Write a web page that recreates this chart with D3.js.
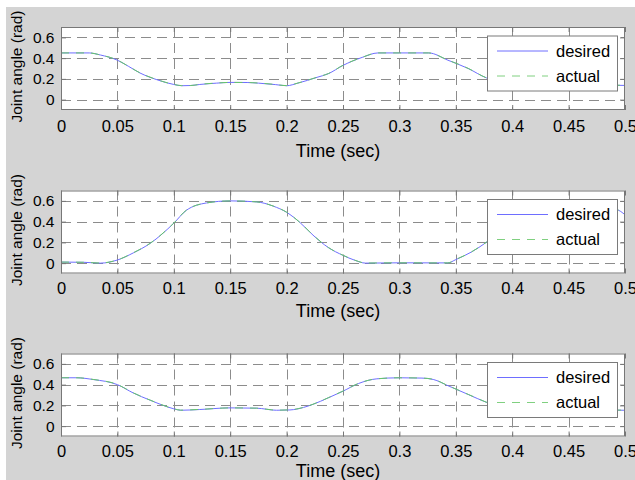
<!DOCTYPE html>
<html>
<head>
<meta charset="utf-8">
<script src="https://cdn.jsdelivr.net/npm/d3@7/dist/d3.min.js"></script>
<style>
  html, body { margin: 0; padding: 0; background: #ffffff; }
  svg { display: block; }
  text { font-family: "Liberation Sans", Arial, sans-serif; fill: #000; }
</style>
</head>
<body>
<svg id="chart" width="635" height="480"></svg>
<script>
// ---------- DATA ----------
const xTicks = [0, 0.05, 0.1, 0.15, 0.2, 0.25, 0.3, 0.35, 0.4, 0.45, 0.5];
const xTickLabels = ["0", "0.05", "0.1", "0.15", "0.2", "0.25", "0.3", "0.35", "0.4", "0.45", "0.5"];
const yTicks = [0, 0.2, 0.4, 0.6];
const yTickLabels = ["0", "0.2", "0.4", "0.6"];
const seriesNames = ["desired", "actual"];
const xLabel = "Time (sec)";
const yLabel = "Joint angle (rad)";

// Panel 1
const t1 = [0, 0.025, 0.035, 0.05, 0.06, 0.07, 0.085, 0.1, 0.107, 0.115, 0.123, 0.138, 0.15, 0.165, 0.175, 0.19, 0.2, 0.21, 0.227, 0.237, 0.25, 0.267, 0.281, 0.3, 0.326, 0.343, 0.361, 0.377, 0.39, 0.405, 0.42, 0.44, 0.46, 0.48, 0.5];
const desired1 = [0.45, 0.45, 0.43, 0.38, 0.32, 0.257, 0.192, 0.146, 0.134, 0.136, 0.146, 0.159, 0.166, 0.165, 0.159, 0.145, 0.134, 0.159, 0.215, 0.25, 0.33, 0.407, 0.45, 0.45, 0.45, 0.38, 0.3, 0.21, 0.17, 0.145, 0.14, 0.15, 0.15, 0.14, 0.137];
const actual1  = [0.45, 0.45, 0.43, 0.381, 0.32, 0.258, 0.193, 0.147, 0.135, 0.136, 0.147, 0.16, 0.166, 0.165, 0.16, 0.146, 0.135, 0.16, 0.216, 0.251, 0.331, 0.408, 0.45, 0.45, 0.45, 0.381, 0.301, 0.211, 0.171, 0.146, 0.141, 0.15, 0.15, 0.141, 0.138];

// Panel 2
const t2 = [0, 0.02, 0.035, 0.05, 0.064, 0.079, 0.1, 0.111, 0.129, 0.15, 0.1735, 0.188, 0.2, 0.212, 0.2234, 0.237, 0.25, 0.2606, 0.27, 0.3, 0.343, 0.35, 0.364, 0.377, 0.39, 0.41, 0.43, 0.45, 0.47, 0.4925, 0.5];
const desired2 = [0.01, 0.008, 0.0, 0.03, 0.098, 0.19, 0.385, 0.508, 0.58, 0.6, 0.59, 0.55, 0.49, 0.39, 0.27, 0.15, 0.075, 0.027, 0.0, 0.003, 0.002, 0.034, 0.108, 0.2, 0.31, 0.42, 0.46, 0.5, 0.53, 0.515, 0.466];
const actual2  = [0.01, 0.008, 0.001, 0.031, 0.099, 0.191, 0.386, 0.509, 0.58, 0.6, 0.59, 0.551, 0.491, 0.391, 0.271, 0.151, 0.076, 0.028, 0.001, 0.003, 0.002, 0.035, 0.109, 0.201, 0.311, 0.42, 0.46, 0.5, 0.53, 0.516, 0.467];

// Panel 3
const t3 = [0, 0.014, 0.0286, 0.05, 0.064, 0.079, 0.1, 0.106, 0.123, 0.15, 0.1735, 0.191, 0.203, 0.215, 0.2234, 0.237, 0.25, 0.2636, 0.28, 0.3, 0.32, 0.33, 0.343, 0.361, 0.377, 0.39, 0.405, 0.42, 0.44, 0.46, 0.48, 0.5];
const desired3 = [0.466, 0.466, 0.449, 0.40, 0.32, 0.25, 0.167, 0.153, 0.16, 0.176, 0.173, 0.153, 0.156, 0.18, 0.21, 0.273, 0.337, 0.41, 0.456, 0.466, 0.463, 0.45, 0.39, 0.305, 0.23, 0.18, 0.16, 0.155, 0.16, 0.16, 0.155, 0.153];
const actual3  = [0.466, 0.466, 0.45, 0.401, 0.321, 0.251, 0.168, 0.154, 0.161, 0.176, 0.173, 0.154, 0.157, 0.181, 0.211, 0.274, 0.338, 0.411, 0.456, 0.466, 0.463, 0.451, 0.391, 0.306, 0.231, 0.181, 0.161, 0.156, 0.16, 0.16, 0.156, 0.154];

const panelsData = [
  { t: t1, desired: desired1, actual: actual1 },
  { t: t2, desired: desired2, actual: actual2 },
  { t: t3, desired: desired3, actual: actual3 }
];

// ---------- LAYOUT ----------
const W = 635, H = 480;
const axLeft = 61, axRight = 625, axH = 83;
const panelTops = [27, 190.5, 353.5];
const tickPad = [10, 8.5, 9];
const xLabelBase = [47, 43.5, 40.5];

const svg = d3.select("#chart");
svg.append("rect").attr("x", 0).attr("y", 0).attr("width", W).attr("height", H).attr("fill", "#ffffff");
svg.append("rect").attr("x", 6).attr("y", 7).attr("width", W - 6).attr("height", H - 7).attr("fill", "#d4d4d4");

const x = d3.scaleLinear().domain([0, 0.5]).range([axLeft, axRight]);

panelsData.forEach((p, i) => {
  const top = panelTops[i];
  const y = d3.scaleLinear().domain([-0.1, 0.7]).range([top + axH, top]);
  const g = svg.append("g");

  g.append("rect").attr("x", axLeft).attr("y", top).attr("width", axRight - axLeft).attr("height", axH).attr("fill", "#ffffff");

  // grid
  const grid = g.append("g").attr("stroke", "#8c8c8c").attr("stroke-width", 1).attr("stroke-dasharray", "10,6").attr("fill", "none");
  grid.selectAll("line.vx").data(xTicks.slice(1, -1)).enter().append("line")
    .attr("x1", d => Math.round(x(d)) + 0.5).attr("x2", d => Math.round(x(d)) + 0.5)
    .attr("y1", top).attr("y2", top + axH);
  grid.selectAll("line.hy").data(yTicks).enter().append("line")
    .attr("x1", axLeft).attr("x2", axRight)
    .attr("y1", d => Math.round(y(d)) + 0.5).attr("y2", d => Math.round(y(d)) + 0.5);

  // clip
  const clipId = "clip" + i;
  svg.append("clipPath").attr("id", clipId).append("rect")
    .attr("x", axLeft).attr("y", top).attr("width", axRight - axLeft).attr("height", axH);

  const pts = (vals) => p.t.map((tt, k) => [tt, vals[k]]);
  const line = d3.line().x(d => x(d[0])).y(d => y(d[1])).curve(d3.curveMonotoneX);

  const lg = g.append("g").attr("clip-path", `url(#${clipId})`);
  lg.append("path").datum(pts(p.desired)).attr("d", line)
    .attr("fill", "none").attr("stroke", "#6e6eff").attr("stroke-width", 1);
  lg.append("path").datum(pts(p.actual)).attr("d", line)
    .attr("fill", "none").attr("stroke", "#66c866").attr("stroke-width", 1).attr("stroke-dasharray", "8,7");

  // axes
  const axColor = "#777777";
  const bottom = g.append("g").attr("transform", `translate(0,${top + axH})`)
    .call(d3.axisBottom(x).tickValues(xTicks).tickFormat((d, k) => xTickLabels[k]).tickSize(-5).tickPadding(tickPad[i]));
  const topAx = g.append("g").attr("transform", `translate(0,${top})`)
    .call(d3.axisTop(x).tickValues(xTicks).tickFormat("").tickSize(-5));
  const leftAx = g.append("g").attr("transform", `translate(${axLeft},0)`)
    .call(d3.axisLeft(y).tickValues(yTicks).tickFormat((d, k) => yTickLabels[k]).tickSize(-5).tickPadding(6.5));
  const rightAx = g.append("g").attr("transform", `translate(${axRight},0)`)
    .call(d3.axisRight(y).tickValues(yTicks).tickFormat("").tickSize(-5));
  [bottom, topAx, leftAx, rightAx].forEach(a => {
    a.select(".domain").remove();
    a.selectAll(".tick line").attr("stroke", axColor);
  });
  bottom.selectAll("text").attr("font-size", 16.5).attr("font-family", "Liberation Sans, Arial, sans-serif").attr("fill", "#000");
  leftAx.selectAll("text").attr("font-size", 15.5).attr("font-family", "Liberation Sans, Arial, sans-serif").attr("fill", "#000");

  g.append("rect").attr("x", axLeft + 0.5).attr("y", top + 0.5).attr("width", axRight - axLeft - 1).attr("height", axH - 1)
    .attr("fill", "none").attr("stroke", axColor).attr("stroke-width", 1);

  // x label
  g.append("text").attr("x", 338).attr("y", top + axH + xLabelBase[i])
    .attr("text-anchor", "middle").attr("font-size", 18).text(xLabel);
  // y label
  g.append("text").attr("transform", `translate(21.5,${top + axH / 2 - 2}) rotate(-90)`)
    .attr("text-anchor", "middle").attr("font-size", 15.5).text(yLabel);

  // legend
  const lx = 487, ly = top + 8.5, lw = 130, lh = 55;
  const leg = g.append("g");
  leg.append("rect").attr("x", lx + 0.5).attr("y", ly + 0.5).attr("width", lw).attr("height", lh)
    .attr("fill", "#ffffff").attr("stroke", "#7a7a7a").attr("stroke-width", 1);
  const styles = [
    { stroke: "#6e6eff", dash: null },
    { stroke: "#80d080", dash: "8,7" }
  ];
  seriesNames.forEach((name, k) => {
    const yy = ly + 15.5 + k * 25;
    const ln = leg.append("line").attr("x1", lx + 10).attr("x2", lx + 61).attr("y1", yy).attr("y2", yy)
      .attr("stroke", styles[k].stroke).attr("stroke-width", 1);
    if (styles[k].dash) ln.attr("stroke-dasharray", styles[k].dash);
    leg.append("text").attr("x", lx + 69).attr("y", yy).attr("dy", "0.36em")
      .attr("font-size", 16.5).text(name);
  });
});
</script>
</body>
</html>
